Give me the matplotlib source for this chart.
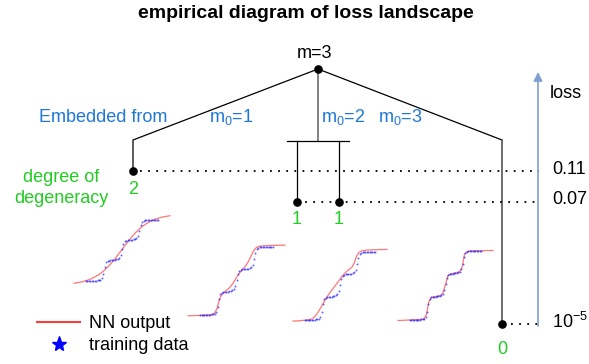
import numpy as np
import matplotlib
matplotlib.use("Agg")
import matplotlib.pyplot as plt
from matplotlib.lines import Line2D

plt.rcParams["font.family"] = ["Liberation Sans", "DejaVu Sans"]
plt.rcParams["mathtext.fontset"] = "custom"
plt.rcParams["mathtext.rm"] = "Liberation Sans"
plt.rcParams["mathtext.it"] = "Liberation Sans:italic"

# ---- data ----
m_total = 3
embed_from = [1, 2, 3]
degeneracy = [2, 1, 1, 0]
loss_levels = ["0.11", "0.07", r"$\mathregular{10^{-5}}$"]

# training data (staircase target), sampled on a regular grid
train_x = np.linspace(-1.5, 1.5, 51)
train_y = [0.00, 0.00, 0.01, 0.01, 0.01, 0.02, 0.02, 0.02, 0.03, 0.04,
           0.06, 0.14, 0.35, 0.70, 0.92, 0.98, 1.00, 1.01, 1.02, 1.03,
           1.04, 1.06, 1.09, 1.15, 1.30, 1.55, 1.82, 1.95, 1.99, 2.01,
           2.02, 2.03, 2.04, 2.05, 2.07, 2.10, 2.20, 2.45, 2.75, 2.92,
           2.97, 2.99, 3.00, 3.00, 3.00, 3.00, 3.00, 3.00, 3.00, 3.00,
           3.00]

# NN outputs of the four minima, on x = -2.0 ... 2.0 step 0.1
nn_x = np.linspace(-2.0, 2.0, 41)
nn_out_1 = [-0.11, -0.09, -0.07, -0.05, -0.02, 0.02, 0.05, 0.10, 0.16, 0.22,
            0.29, 0.37, 0.46, 0.57, 0.68, 0.80, 0.94, 1.08, 1.24, 1.39,
            1.55, 1.71, 1.86, 2.02, 2.16, 2.30, 2.42, 2.53, 2.64, 2.73,
            2.81, 2.88, 2.94, 3.00, 3.05, 3.08, 3.12, 3.15, 3.17, 3.19,
            3.21]
nn_out_2 = [-0.03, -0.03, -0.03, -0.02, -0.02, -0.02, -0.01, -0.01, 0.00, 0.01,
            0.02, 0.08, 0.30, 0.70, 0.92, 1.02, 1.10, 1.19, 1.32, 1.48,
            1.66, 1.82, 1.95, 2.07, 2.20, 2.38, 2.60, 2.82, 2.96, 3.02,
            3.04, 3.05, 3.06, 3.06, 3.07, 3.07, 3.07, 3.08, 3.08, 3.08,
            3.08]
nn_out_3 = [-0.05, -0.04, -0.04, -0.03, -0.02, -0.01, 0.00, 0.02, 0.05, 0.12,
            0.24, 0.40, 0.58, 0.77, 0.95, 1.10, 1.25, 1.39, 1.52, 1.66,
            1.80, 1.94, 2.06, 2.16, 2.24, 2.32, 2.50, 2.80, 2.98, 3.04,
            3.07, 3.08, 3.09, 3.09, 3.10, 3.10, 3.10, 3.11, 3.11, 3.11,
            3.12]
nn_out_4 = [-0.02, -0.02, -0.01, -0.01, 0.00, 0.00, 0.01, 0.01, 0.02, 0.02,
            0.03, 0.06, 0.25, 0.80, 0.98, 1.01, 1.02, 1.04, 1.07, 1.20,
            1.55, 1.92, 2.00, 2.02, 2.04, 2.06, 2.10, 2.30, 2.86, 2.97,
            3.00, 3.00, 3.00, 3.01, 3.01, 3.01, 3.01, 3.02, 3.02, 3.02,
            3.02]
nn_outputs = [nn_out_1, nn_out_2, nn_out_3, nn_out_4]

# ---- layout (pixel coordinates, y downwards) ----
W, H = 589, 364
BLUE_TXT = "#1f78d8"
GREEN_TXT = "#22cc22"
top = (318, 69)
left_corner, left_dot = (133, 140), (133, 171)
bar_y, bar_x = 141, (287, 349)
sub_x, sub_y = (297, 339), 202
right_corner, right_dot = (502, 140), (502, 324)
loss_y = [171, 202, 324]
dots_from = [140, 297, 511]
dots_to = 539
arrow_x = 538
label_offsets = [18, 18, 18, 26]
# panel boxes: x at -2, x at +2, y at level 0, y at level 3
panels = [(74, 170, 281, 220), (188, 285, 315, 247),
          (293, 387, 320, 252), (398, 493, 320, 251)]

fig = plt.figure(figsize=(W / 100, H / 100), dpi=100)
ax = fig.add_axes([0, 0, 1, 1])
ax.set_xlim(0, W)
ax.set_ylim(H, 0)
ax.axis("off")

ax.text(306, 14, "empirical diagram of loss landscape",
        ha="center", va="center", fontsize=14, fontweight="bold")

# tree
lw = 0.9
ax.plot([top[0], left_corner[0], left_dot[0]],
        [top[1], left_corner[1], left_dot[1]], color="black", lw=lw)
ax.plot([top[0], top[0]], [top[1], bar_y], color="#777777", lw=1.3)
ax.plot(bar_x, [bar_y, bar_y], color="black", lw=lw)
for sx in sub_x:
    ax.plot([sx, sx], [bar_y, sub_y], color="black", lw=lw)
ax.plot([top[0], right_corner[0]], [top[1], right_corner[1]], color="black", lw=lw)
ax.plot([right_corner[0], right_dot[0]], [right_corner[1], right_dot[1]],
        color="#555555", lw=1.2)

minima = [left_dot, (sub_x[0], sub_y), (sub_x[1], sub_y), right_dot]
ax.plot([p[0] for p in minima + [top]], [p[1] for p in minima + [top]],
        "o", color="black", ms=5.2, ls="none")

ax.text(top[0] - 3, top[1] - 15, f"m={m_total}", ha="center", va="center", fontsize=13)

# loss levels
for y, x0, lab in zip(loss_y, dots_from, loss_levels):
    ax.plot([x0, dots_to], [y, y], color="black", lw=1.3, ls=(0, (1, 3.5)))
    ax.text(552, y - 2, lab, ha="left", va="center", fontsize=13)

ax.annotate("", xy=(arrow_x, 72), xytext=(arrow_x, 326),
            arrowprops=dict(arrowstyle="-|>", color="#7f9fd0", lw=1.2,
                            mutation_scale=13, shrinkA=0, shrinkB=0))
ax.text(550, 94, "loss", ha="left", va="center", fontsize=13)

# embedding labels
ax.text(39, 117, "Embedded from", ha="left", va="center", fontsize=13, color=BLUE_TXT)
for x, m0 in zip([209, 321, 378], embed_from):
    ax.text(x, 117, rf"m$_\mathregular{{0}}$={m0}", ha="left", va="center",
            fontsize=13, color=BLUE_TXT)

# degeneracy
ax.text(61, 188, "degree of\ndegeneracy", ha="center", va="center",
        fontsize=13, color=GREEN_TXT, linespacing=1.35)
for p, d, off in zip(minima, degeneracy, label_offsets):
    ax.text(p[0], p[1] + off, str(d), ha="center", va="center",
            fontsize=13, color=GREEN_TXT)

# mini panels of NN output vs training data
for (xl, xr, y0, y3), nn in zip(panels, nn_outputs):
    pax = fig.add_axes([xl / W, 1 - y0 / H, (xr - xl) / W, (y0 - y3) / H])
    pax.set_xlim(-2, 2)
    pax.set_ylim(0, 3)
    pax.axis("off")
    pax.plot(nn_x, nn, color="#ff7777", lw=0.9, clip_on=False)
    pax.plot(train_x, train_y, "o", color="#2222ff", ms=1.4, mew=0,
             alpha=0.7, clip_on=False)

handles = [Line2D([], [], color="#ff3b3b", lw=1.5),
           Line2D([], [], marker="*", color="#0000ff", ls="none", ms=11)]
fig.legend(handles, ["NN output", "training data"], loc="upper left",
           bbox_to_anchor=(37 / W, 1 - 315 / H), frameon=False, fontsize=13,
           handlelength=2.4, handletextpad=0.5, labelspacing=0.3,
           borderpad=0, borderaxespad=0)

fig.savefig("out.png", dpi=100)
